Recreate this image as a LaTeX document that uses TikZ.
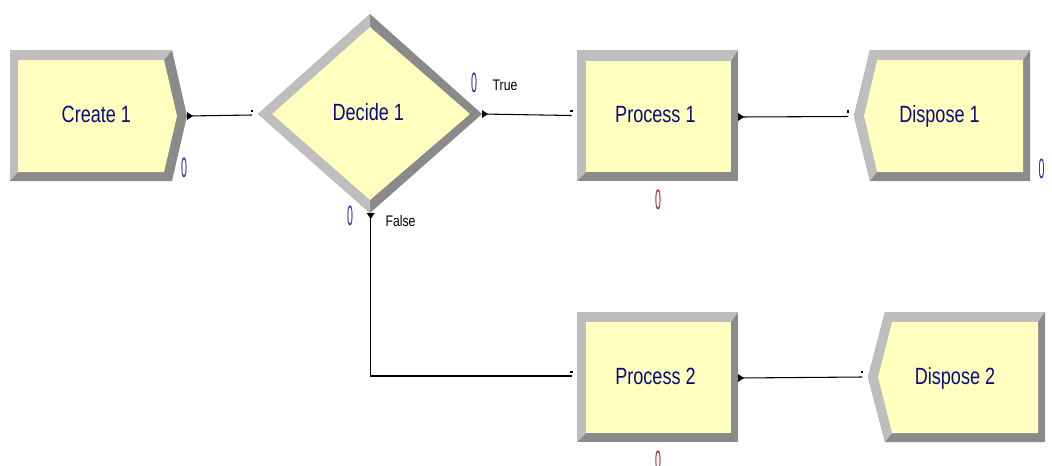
\documentclass[tikz,border=0pt]{standalone}
\usepackage{fontspec}
\usepackage{graphicx}
\newfontfamily\arenafont[FakeStretch=0.77]{Liberation Sans}
\newfontfamily\arenasmall[FakeStretch=0.8]{Liberation Sans}
\newfontfamily\arenacnt{Liberation Sans}
\definecolor{modyellow}{RGB}{255,255,192}
\definecolor{bevlight}{RGB}{190,190,190}
\definecolor{bevdark}{RGB}{138,138,138}
\definecolor{navytext}{RGB}{10,10,128}
\definecolor{cntblue}{RGB}{40,40,165}
\definecolor{cntred}{RGB}{170,30,40}
\tikzset{
  modlabel/.style={anchor=base, inner sep=0pt, text=navytext, font=\arenafont\fontsize{17.6}{20}\selectfont},
  branchlabel/.style={anchor=base, inner sep=0pt, text=black, font=\arenasmall\fontsize{11.5}{13}\selectfont},
  bluecount/.style={anchor=base, inner sep=0pt, text=cntblue, font=\arenacnt\fontsize{21}{21}\selectfont},
  redcount/.style={anchor=base, inner sep=0pt, text=cntred, font=\arenacnt\fontsize{21}{21}\selectfont},
  conn/.style={draw=black, line width=0.8pt},
  exittip/.style={fill=black},
  entrydot/.style={fill=black}
}
\newcommand{\cnt}{\scalebox{0.38}[1]{0}}
\begin{document}
\begin{tikzpicture}[x=0.75pt,y=-0.75pt]
\useasboundingbox[fill=white] (0,0) rectangle (1052,465);

% ---------- Create 1 ----------
\fill[bevdark] (10,50) -- (172,50) -- (187,116) -- (172,181) -- (10,181) -- cycle;
\fill[bevlight] (10,50) -- (172,50) -- (164,60) -- (18,60) -- (18,172) -- (10,181) -- cycle;
\fill[modyellow] (18,60) -- (164,60) -- (177,116) -- (164,172) -- (18,172) -- cycle;
\node[modlabel] (create) at (96.4,122.3) {Create 1};
\node[bluecount] (createcnt) at (184,177) {\cnt};

% ---------- Decide 1 ----------
\fill[bevdark] (370,14) -- (482,114) -- (370,213) -- (258,114) -- cycle;
\fill[bevlight] (370,14) -- (370,27) -- (272,114) -- (370,200) -- (370,213) -- (258,114) -- cycle;
\fill[modyellow] (370,27) -- (470,114) -- (370,200) -- (272,114) -- cycle;
\node[modlabel] (decide) at (368.3,120.7) {Decide 1};
\node[bluecount] (truecnt) at (474,92) {\cnt};
\node[branchlabel] (truelbl) at (505,90) {True};
\node[bluecount] (falsecnt) at (350,225.7) {\cnt};
\node[branchlabel] (falselbl) at (400.5,226) {False};

% ---------- Process 1 ----------
\fill[bevdark] (577,50) rectangle (738,181);
\fill[bevlight] (577,50) -- (738,50) -- (731,61) -- (586,61) -- (586,172) -- (577,181) -- cycle;
\fill[modyellow] (586,61) rectangle (731,172);
\node[modlabel] (proc1) at (655.4,122.5) {Process 1};
\node[redcount] (proc1cnt) at (658,209) {\cnt};

% ---------- Process 2 ----------
\fill[bevdark] (577,312) rectangle (738,442);
\fill[bevlight] (577,312) -- (738,312) -- (731,322) -- (586,322) -- (586,433) -- (577,442) -- cycle;
\fill[modyellow] (586,322) rectangle (731,433);
\node[modlabel] (proc2) at (655.5,384) {Process 2};
\node[redcount] (proc2cnt) at (658,470.7) {\cnt};

% ---------- Dispose 1 ----------
\fill[bevdark] (854,116) -- (870,50) -- (1030,50) -- (1030,181) -- (870,181) -- cycle;
\fill[bevlight] (854,116) -- (870,50) -- (1030,50) -- (1023,60) -- (877,60) -- (864,116) -- (877,172) -- (870,181) -- cycle;
\fill[modyellow] (864,116) -- (877,60) -- (1023,60) -- (1023,172) -- (877,172) -- cycle;
\node[modlabel] (disp1) at (939.5,122.5) {Dispose 1};
\node[bluecount] (disp1cnt) at (1041.5,178) {\cnt};

% ---------- Dispose 2 ----------
\fill[bevdark] (868,377) -- (885,312) -- (1045,312) -- (1045,442) -- (885,442) -- cycle;
\fill[bevlight] (868,377) -- (885,312) -- (1045,312) -- (1038,322) -- (892,322) -- (878,377) -- (892,433) -- (885,442) -- cycle;
\fill[modyellow] (878,377) -- (892,322) -- (1038,322) -- (1038,433) -- (892,433) -- cycle;
\node[modlabel] (disp2) at (955,384) {Dispose 2};

% ---------- connection points ----------
\coordinate (createout) at (187,116);
\coordinate (decidein) at (252,115);
\coordinate (trueout) at (482,114);
\coordinate (proc1in) at (571.5,115.5);
\coordinate (falseout) at (370.7,213);
\coordinate (falsebend) at (370.7,376);
\coordinate (proc2in) at (571.5,376);
\coordinate (proc1out) at (738,117);
\coordinate (disp1in) at (848,116.5);
\coordinate (proc2out) at (738,378);
\coordinate (disp2in) at (862,377);

% ---------- connectors ----------
\draw[conn] (createout) -- (decidein);
\draw[conn] (trueout) -- (proc1in);
\draw[conn] (falseout) -- (falsebend) -- (proc2in);
\draw[conn] (proc1out) -- (disp1in);
\draw[conn] (proc2out) -- (disp2in);

% exit triangles
\fill[exittip] (createout) ++(0,-4) -- ++(6,4) -- ++(-6,4) -- cycle;
\fill[exittip] (trueout) ++(0,-4) -- ++(6,4) -- ++(-6,4) -- cycle;
\fill[exittip] (proc1out) ++(0,-4) -- ++(6,4) -- ++(-6,4) -- cycle;
\fill[exittip] (proc2out) ++(0,-4) -- ++(6,4) -- ++(-6,4) -- cycle;
\fill[exittip] (falseout) ++(-4,0) -- ++(4,6) -- ++(4,-6) -- cycle;

% entry dots
\fill[entrydot] (decidein) ++(-1.3,-5.5) rectangle ++(2.6,2.6);
\fill[entrydot] (proc1in) ++(-1.3,-6) rectangle ++(2.6,2.6);
\fill[entrydot] (proc2in) ++(-1.3,-5.5) rectangle ++(2.6,2.6);
\fill[entrydot] (disp1in) ++(-1.3,-6.5) rectangle ++(2.6,2.6);
\fill[entrydot] (disp2in) ++(-1.3,-6.5) rectangle ++(2.6,2.6);
\end{tikzpicture}
\end{document}
